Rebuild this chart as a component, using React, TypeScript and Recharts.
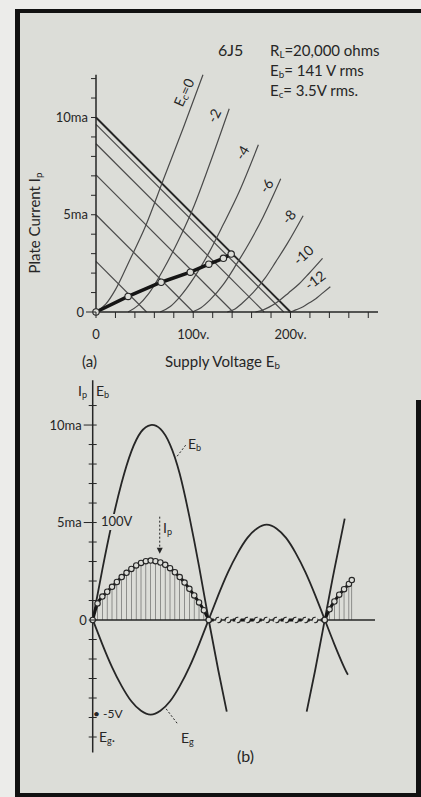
import React from "react";
import {
  ComposedChart,
  Line,
  Bar,
  XAxis,
  YAxis,
  ReferenceLine,
  ReferenceDot,
} from "recharts";

const FONT = "Lato, 'Open Sans', sans-serif";
const INK = "#262626";
const THIN = "#4a4a4a";
const PAPER = "#dcddd8";

// ---- (a) 6J5 plate family, load lines and dynamic curve ----
const gridBias = ["0", "-2", "-4", "-6", "-8", "-10", "-12"];
const biasVolts = [
  [0, 10, 20, 35, 50, 70, 90, 110],
  [33, 43, 54, 69, 85, 101, 116, 137],
  [66, 76, 86, 101, 116, 131, 147, 167],
  [99, 108, 117, 131, 144, 158, 172, 190],
  [135, 143, 150, 162, 174, 185, 197, 213],
  [164, 171, 178, 188, 198, 209, 219, 233],
  [198, 202, 206, 213, 219, 226, 232, 241],
];
const biasMa = [
  [0, 0.4, 1.15, 2.7, 4.3, 6.9, 9.5, 12.2],
  [0, 0.33, 0.93, 2.16, 3.7, 5.48, 7.48, 10.45],
  [0, 0.27, 0.77, 1.78, 3.04, 4.51, 6.16, 8.6],
  [0, 0.22, 0.61, 1.42, 2.42, 3.59, 4.9, 6.85],
  [0, 0.16, 0.44, 1.02, 1.75, 2.59, 3.54, 4.95],
  [0, 0.09, 0.25, 0.57, 0.98, 1.45, 1.98, 2.76],
  [0, 0.04, 0.12, 0.27, 0.46, 0.68, 0.93, 1.3],
];
// label spot and slant for each bias curve
const biasLabelVolts = [90, 121, 150, 175, 198, 213, 225];
const biasLabelMa = [11.3, 10.1, 8.2, 6.5, 4.9, 2.95, 1.65];
const biasLabelTilt = [-66, -63, -60, -55, -50, -42, -37];

// instantaneous supply voltage -> load line from (0, ma) to (volts, 0)
const supplyVolts = [52, 100, 141, 173, 193, 200];
const loadLineMa = [2.6, 5, 7.05, 8.65, 9.65, 10];

const dynVolts = [0, 33, 67, 97, 116, 131, 139];
const dynMa = [0, 0.8, 1.53, 2.05, 2.46, 2.76, 2.98];

const voltTicks = [0, 20, 40, 60, 80, 100, 120, 140, 160, 180, 200, 220, 240, 260, 280];
const maTicks = [0, 1, 2, 3, 4, 5, 6, 7, 8, 9, 10, 11, 12];

// ---- (b) waveforms over one and a bit cycles (degrees) ----
const ebDeg = [0, 15, 30, 45, 60, 75, 90, 105, 120, 135, 150, 165, 180, 195, 208];
const ebVolts = [0, 52, 100, 141, 173, 193, 200, 196, 180, 150, 106, 55, 0, -52, -94];
const ebTailDeg = [332, 345, 360, 375, 391];
const ebTailVolts = [-94, -52, 0, 52, 104];

const egDeg = [
  0, 15, 30, 45, 60, 75, 90, 105, 120, 135, 150, 165, 180, 195, 210, 225, 240,
  255, 270, 285, 300, 315, 330, 345, 360, 375, 390, 396,
];
const egVolts = [
  0, -1.3, -2.5, -3.5, -4.3, -4.8, -5, -4.8, -4.3, -3.5, -2.5, -1.3, 0, 1.3, 2.5,
  3.5, 4.3, 4.8, 5, 4.8, 4.3, 3.5, 2.5, 1.3, 0, -1.3, -2.5, -2.9,
];

const ipDeg = [
  0, 7.5, 15, 22.5, 30, 37.5, 45, 52.5, 60, 67.5, 75, 82.5, 90, 97.5, 105, 112.5,
  120, 127.5, 135, 142.5, 150, 157.5, 165, 172.5, 180,
];
const ipMa = [
  0, 0.85, 1.2, 1.45, 1.7, 1.95, 2.2, 2.42, 2.62, 2.8, 2.93, 3.02, 3.05, 3.02,
  2.95, 2.83, 2.66, 2.45, 2.2, 1.92, 1.6, 1.26, 0.9, 0.5, 0,
];
const ipOffDeg = [180, 195, 210, 225, 240, 255, 270, 285, 300, 315, 330, 345, 360];
const ipRiseDeg = [360, 367.5, 375, 382.5, 390, 397.5, 402];
const ipRiseMa = [0, 0.55, 0.95, 1.3, 1.58, 1.85, 2.05];

const waveTicks = [-6, -5, -4, -3, -2, -1, 0, 1, 2, 3, 4, 5, 6, 7, 8, 9, 10, 11];

const biasCurves = gridBias.map((_, k) =>
  biasVolts[k].map((v, j) => ({ v, i: biasMa[k][j] }))
);
const loadLines = supplyVolts.map((v, k) => [
  { v: 0, i: loadLineMa[k] },
  { v, i: 0 },
]);
const dynamic = dynVolts.map((v, j) => ({ v, i: dynMa[j] }));

const eb = ebDeg.map((t, j) => ({ t, e: ebVolts[j] }));
const ebTail = ebTailDeg.map((t, j) => ({ t, e: ebTailVolts[j] }));
const eg = egDeg.map((t, j) => ({ t, e: egVolts[j] }));
const ipHump = ipDeg.map((t, j) => ({ t, ip: ipMa[j] }));
const ipOff = ipOffDeg.map((t) => ({ t, ip: 0 }));
const ipRise = ipRiseDeg.map((t, j) => ({ t, ip: ipRiseMa[j] }));
const ipStems = [...ipHump, ...ipRise];

const openDot = { r: 2.7, fill: PAPER, stroke: INK, strokeWidth: 1.1 };

const VoltTick = (p: any) => {
  const { x, y, payload } = p;
  const v = payload.value;
  const label = v === 0 ? "0" : v === 100 ? "100v." : v === 200 ? "200v." : "";
  return (
    <g>
      <line x1={x} x2={x} y1={y} y2={y + 6} stroke={INK} strokeWidth={1} />
      {label && (
        <text x={x} y={y + 27} textAnchor="middle" fontSize={13} fontFamily={FONT} fill={INK}>
          {label}
        </text>
      )}
    </g>
  );
};

const MaTick = (p: any) => {
  const { x, y, payload } = p;
  const v = payload.value;
  const label = v === 0 ? "0" : v === 5 ? "5ma" : v === 10 ? "10ma" : "";
  return (
    <g>
      <line x1={x - (v === 0 ? 10 : 5)} x2={x} y1={y} y2={y} stroke={INK} strokeWidth={1} />
      {label && (
        <text x={x - (v === 0 ? 12 : 8)} y={y + 4.5} textAnchor="end" fontSize={13} fontFamily={FONT} fill={INK}>
          {label}
        </text>
      )}
    </g>
  );
};

const WaveTick = (p: any) => {
  const { x, y, payload } = p;
  const v = payload.value;
  const label = v === 0 ? "0" : v === 5 ? "5ma" : v === 10 ? "10ma" : "";
  return (
    <g>
      <line x1={x - (label && v ? 9 : 4)} x2={x + 4} y1={y} y2={y} stroke={INK} strokeWidth={1} />
      {label && (
        <text x={x - (v ? 11 : 6)} y={y + 4.5} textAnchor="end" fontSize={13} fontFamily={FONT} fill={INK}>
          {label}
        </text>
      )}
    </g>
  );
};

const BiasLabel = ({ cx, cy, text, tilt }: any) => (
  <text
    x={cx}
    y={cy}
    transform={`rotate(${tilt} ${cx} ${cy})`}
    textAnchor="middle"
    dominantBaseline="central"
    fontSize={14}
    fontFamily={FONT}
    fill={INK}
  >
    {text === "0" ? (
      <>
        E<tspan fontSize={10} dy={3}>c</tspan>
        <tspan dy={-3}>=0</tspan>
      </>
    ) : (
      text
    )}
  </text>
);

const ArrowDown = ({ cx, cy }: any) => (
  <path d={`M${cx - 3},${cy - 5} L${cx + 3},${cy - 5} L${cx},${cy + 1} Z`} fill={INK} />
);

const Txt = ({ x, y, size = 15, children, style }: any) => (
  <div
    style={{
      position: "absolute",
      left: x,
      top: y - size * 0.6,
      fontSize: size,
      lineHeight: 1.2,
      fontFamily: FONT,
      color: INK,
      whiteSpace: "nowrap",
      ...style,
    }}
  >
    {children}
  </div>
);

const sub = { fontSize: "0.65em", verticalAlign: "-0.25em" };

function PlateFamily() {
  return (
    <ComposedChart
      width={421}
      height={400}
      data={dynamic}
      margin={{ top: 74.7, right: 43, bottom: 58, left: 36 }}
    >
      <XAxis
        dataKey="v"
        type="number"
        domain={[0, 290]}
        ticks={voltTicks}
        interval={0}
        height={30}
        tickSize={0}
        tickMargin={0}
        axisLine={{ stroke: INK, strokeWidth: 1.5 }}
        tick={(p: any) => <VoltTick {...p} />}
      />
      <YAxis
        type="number"
        domain={[0, 12.2]}
        ticks={maTicks}
        interval={0}
        width={60}
        tickSize={0}
        tickMargin={0}
        axisLine={{ stroke: INK, strokeWidth: 1.5 }}
        tick={(p: any) => <MaTick {...p} />}
      />
      {loadLines.map((d, k) => (
        <Line
          key={`load${k}`}
          data={d}
          dataKey="i"
          stroke={k === loadLines.length - 1 ? INK : THIN}
          strokeWidth={k === loadLines.length - 1 ? 1.9 : 1.2}
          dot={false}
          isAnimationActive={false}
        />
      ))}
      {biasCurves.map((d, k) => (
        <Line
          key={`bias${k}`}
          data={d}
          dataKey="i"
          type="monotone"
          stroke={THIN}
          strokeWidth={1.2}
          dot={false}
          isAnimationActive={false}
        />
      ))}
      <Line
        dataKey="i"
        stroke="#151515"
        strokeWidth={3.5}
        dot={{ ...openDot, r: 3.2 }}
        isAnimationActive={false}
      />
      {gridBias.map((g, k) => (
        <ReferenceDot
          key={`lab${k}`}
          x={biasLabelVolts[k]}
          y={biasLabelMa[k]}
          r={0}
          shape={(p: any) => <BiasLabel {...p} text={g} tilt={biasLabelTilt[k]} />}
        />
      ))}
    </ComposedChart>
  );
}

function Waveforms() {
  return (
    <ComposedChart
      width={421}
      height={437}
      data={ipStems}
      margin={{ top: 20.2, right: 46, bottom: 44.4, left: 32.7 }}
    >
      <XAxis dataKey="t" type="number" domain={[0, 438]} hide />
      <YAxis
        yAxisId="ma"
        type="number"
        domain={[-6.8, 12.3]}
        ticks={waveTicks}
        interval={0}
        width={60}
        tickSize={0}
        tickMargin={0}
        axisLine={{ stroke: INK, strokeWidth: 1.5 }}
        tick={(p: any) => <WaveTick {...p} />}
      />
      <YAxis yAxisId="eb" type="number" domain={[-136, 246]} width={0} orientation="right" hide />
      <YAxis yAxisId="eg" type="number" domain={[-7, 12.6]} width={0} orientation="right" hide />
      <ReferenceLine yAxisId="ma" y={0} stroke={INK} strokeWidth={1.5} />
      <Bar yAxisId="ma" dataKey="ip" barSize={1} fill="#555" isAnimationActive={false} />
      <Line yAxisId="eb" data={eb} dataKey="e" type="natural" stroke={INK} strokeWidth={1.8} dot={false} isAnimationActive={false} />
      <Line yAxisId="eb" data={ebTail} dataKey="e" type="natural" stroke={INK} strokeWidth={1.8} dot={false} isAnimationActive={false} />
      <Line yAxisId="eg" data={eg} dataKey="e" type="natural" stroke={INK} strokeWidth={1.8} dot={false} isAnimationActive={false} />
      <Line yAxisId="ma" data={ipOff} dataKey="ip" stroke="#151515" strokeWidth={3} strokeDasharray="5 3" dot={openDot} isAnimationActive={false} />
      <Line yAxisId="ma" data={ipHump} dataKey="ip" type="monotone" stroke="#151515" strokeWidth={3} dot={openDot} isAnimationActive={false} />
      <Line yAxisId="ma" data={ipRise} dataKey="ip" type="monotone" stroke="#151515" strokeWidth={3} dot={openDot} isAnimationActive={false} />
      <ReferenceLine yAxisId="ma" segment={[{ x: 104, y: 5.3 }, { x: 104, y: 3.6 }]} stroke={INK} strokeDasharray="2 2" />
      <ReferenceDot yAxisId="ma" x={104} y={3.45} r={0} shape={(p: any) => <ArrowDown {...p} />} />
      <ReferenceLine yAxisId="ma" segment={[{ x: 131, y: 8.4 }, { x: 145, y: 9.0 }]} stroke={INK} strokeDasharray="2 2" />
      <ReferenceLine yAxisId="eg" segment={[{ x: 114, y: -4.7 }, { x: 132, y: -5.5 }]} stroke={INK} strokeDasharray="2 2" />
    </ComposedChart>
  );
}

export default function App() {
  return (
    <div
      style={{
        position: "absolute",
        left: 0,
        top: 0,
        width: 421,
        height: 797,
        background: "#ececea",
        overflow: "hidden",
      }}
    >
      <div style={{ position: "absolute", left: 15, top: 9, width: 406, height: 788, background: PAPER }} />
      <div style={{ position: "absolute", left: 15, top: 9, width: 406, height: 4, background: "#111" }} />
      <div style={{ position: "absolute", left: 15, top: 9, width: 5, height: 788, background: "#111" }} />
      <div style={{ position: "absolute", left: 416, top: 400, width: 5, height: 397, background: "#111" }} />
      <div style={{ position: "absolute", left: 15, top: 793, width: 406, height: 4, background: "#111" }} />

      <div style={{ position: "absolute", left: 0, top: 0 }}>
        <PlateFamily />
      </div>
      <div style={{ position: "absolute", left: 0, top: 360 }}>
        <Waveforms />
      </div>

      <Txt x={218} y={50} size={16}>6J5</Txt>
      <Txt x={270} y={50} size={15}>
        R<span style={sub}>L</span>=20,000 ohms
      </Txt>
      <Txt x={270} y={70} size={15}>
        E<span style={sub}>b</span>= 141 V rms
      </Txt>
      <Txt x={270} y={90} size={15}>
        E<span style={sub}>c</span>= 3.5V rms.
      </Txt>
      <div
        style={{
          position: "absolute",
          left: 34 - 70,
          top: 223 - 9,
          width: 140,
          height: 18,
          textAlign: "center",
          transform: "rotate(-90deg)",
          fontSize: 15,
          lineHeight: "18px",
          fontFamily: FONT,
          color: INK,
          whiteSpace: "nowrap",
        }}
      >
        Plate Current I<span style={sub}>p</span>
      </div>
      <Txt x={82} y={361} size={15}>(a)</Txt>
      <Txt x={165} y={361} size={15}>
        Supply Voltage E<span style={sub}>b</span>
      </Txt>

      <Txt x={78} y={391} size={14}>
        I<span style={sub}>p</span>
      </Txt>
      <Txt x={96} y={391} size={14}>
        E<span style={sub}>b</span>
      </Txt>
      <Txt x={188} y={444} size={14}>
        E<span style={sub}>b</span>
      </Txt>
      <Txt x={100} y={522} size={13} style={{ background: PAPER, padding: "0 1px" }}>
        100V
      </Txt>
      <Txt x={163} y={528} size={14}>
        I<span style={sub}>p</span>
      </Txt>
      <Txt x={93} y={714} size={12}>• -5V</Txt>
      <Txt x={99} y={737} size={14}>
        E<span style={sub}>g</span>.
      </Txt>
      <Txt x={181} y={738} size={14}>
        E<span style={sub}>g</span>
      </Txt>
      <Txt x={237} y={756} size={16}>(b)</Txt>
    </div>
  );
}
